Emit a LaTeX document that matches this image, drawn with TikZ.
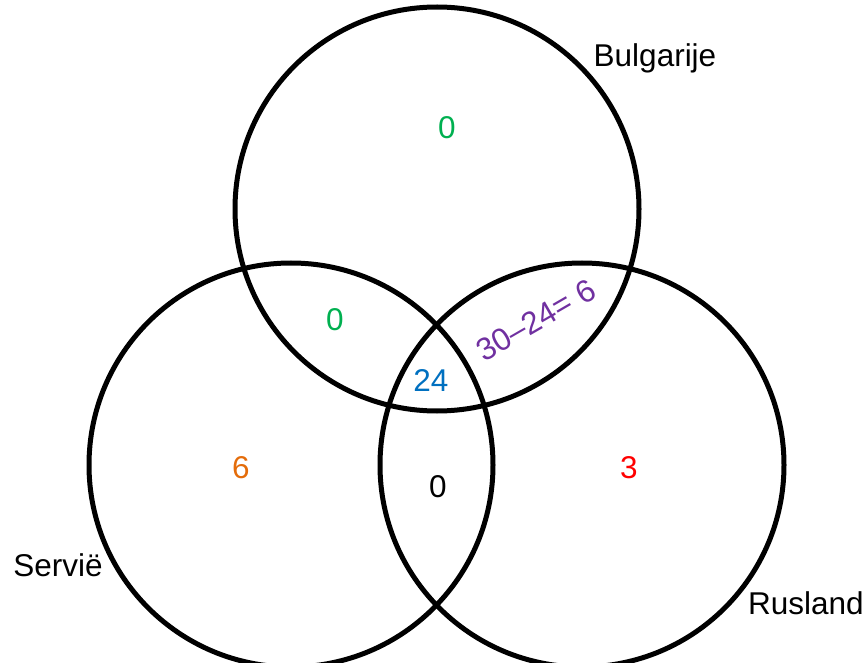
\documentclass[tikz,border=0pt]{standalone}
\usepackage{fontspec}
\setmainfont{Liberation Sans}
\definecolor{cgreen}{RGB}{0,176,80}
\definecolor{cblue}{RGB}{0,112,192}
\definecolor{corange}{RGB}{228,108,10}
\definecolor{cpurple}{RGB}{112,48,160}
\definecolor{cred}{RGB}{255,0,0}
\begin{document}
\begin{tikzpicture}[x=1pt,y=-1pt,
  ring/.style={draw=black,line width=5pt,circle,minimum size=404pt,inner sep=0pt},
  lbl/.style={font=\fontsize{31.5}{36}\selectfont,inner sep=0pt}]
\useasboundingbox (0,0) rectangle (868,663);
\node[ring] (B) at (437,209) {};
\node[ring] (S) at (291,465) {};
\node[ring] (R) at (582,465) {};
\node[lbl] (lB) at (655,58) {Bulgarije};
\node[lbl] (lS) at (58,565) {Servië};
\node[lbl] (lR) at (806,603) {Rusland};
\node[lbl,text=cgreen] (nB) at (447,128) {0};
\node[lbl,text=cgreen] (nBS) at (335,320) {0};
\node[lbl,text=cblue] (nBSR) at (431,381) {24};
\node[lbl,text=corange] (nS) at (241,468) {6};
\node[lbl] (nSR) at (438,487) {0};
\node[lbl,text=cred] (nR) at (629,468) {3};
\node[lbl,text=cpurple,rotate=30] (nBR) at (536,320) {30–24= 6};
\end{tikzpicture}
\end{document}
